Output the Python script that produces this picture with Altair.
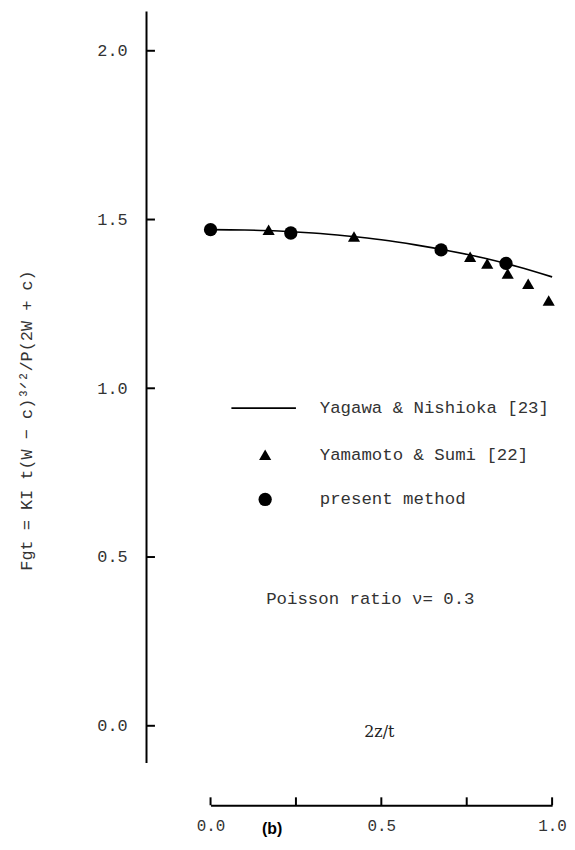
import altair as alt
import pandas as pd

# ---- data ----
# Yagawa & Nishioka [23] (solid curve)
curve_x = [0.0, 0.1, 0.2, 0.3, 0.4, 0.5, 0.6, 0.7, 0.8, 0.9, 1.0]
curve_y = [1.470, 1.469, 1.466, 1.460, 1.451, 1.440, 1.425, 1.407, 1.386, 1.360, 1.330]
# Yamamoto & Sumi [22] (triangles)
tri_x = [0.17, 0.42, 0.76, 0.81, 0.87, 0.93, 0.99]
tri_y = [1.47, 1.45, 1.39, 1.37, 1.34, 1.31, 1.26]
# present method (circles)
circ_x = [0.0, 0.235, 0.675, 0.865]
circ_y = [1.47, 1.46, 1.41, 1.37]

legend_labels = ["Yagawa & Nishioka [23]", "Yamamoto & Sumi [22]", "present method"]
x_ticks = [0.0, 0.25, 0.5, 0.75, 1.0]
y_ticks = [0.0, 0.5, 1.0, 1.5, 2.0]
y_title = "Fgt = KI t(W \u2212 c)\u00b3\u141f\u00b2/P(2W + c)"
note_text = "Poisson ratio   \u03bd= 0.3"
x_title = "2z/t"
panel_label = "(b)"

MONO = "Liberation Mono"
TXT = "#333333"
H = 757          # plot height (px)
XOFF = 43        # x axis offset below plot
YOFF = 65        # y axis offset left of plot

curve_df = pd.DataFrame({"x": curve_x, "y": curve_y})
tri_df = pd.DataFrame({"x": tri_x, "y": tri_y})
circ_df = pd.DataFrame({"x": circ_x, "y": circ_y})
xt_df = pd.DataFrame({"x": x_ticks})
yt_df = pd.DataFrame({"y": y_ticks})

xs = alt.Scale(domain=[0, 1], nice=False, zero=False)
ys = alt.Scale(domain=[-0.109, 2.118], nice=False, zero=False)

x_axis = alt.Axis(
    values=x_ticks, offset=XOFF, ticks=False,
    domainWidth=2, domainColor="black",
    labelExpr="(datum.value == 0.25 || datum.value == 0.75) ? '' : format(datum.value, '.1f')",
    labelFont=MONO, labelFontSize=16, labelColor=TXT, labelPadding=12,
    labelFlush=False, grid=False, title=None,
)
y_axis = alt.Axis(
    values=y_ticks, offset=YOFF, ticks=False,
    domainWidth=2, domainColor="black", format=".1f",
    labelFont=MONO, labelFontSize=17, labelColor=TXT, labelPadding=19,
    labelFlush=False, grid=False,
    title=y_title, titleFont=MONO, titleFontSize=17, titleFontWeight="normal",
    titleColor=TXT, titleAngle=270, titleX=-120, titleY=412,
    titleAlign="center", titleBaseline="middle",
)

X = lambda: alt.X("x:Q", scale=xs)
Y = lambda: alt.Y("y:Q", scale=ys)

curve = alt.Chart(curve_df).mark_line(color="black", strokeWidth=1.6, interpolate="monotone").encode(
    x=alt.X("x:Q", scale=xs, axis=x_axis),
    y=alt.Y("y:Q", scale=ys, axis=y_axis),
)
tris = alt.Chart(tri_df).mark_point(shape="triangle-up", filled=True, color="black", size=150, opacity=1).encode(
    x=X(), y=Y()
)
circs = alt.Chart(circ_df).mark_point(shape="circle", filled=True, color="black", size=180, opacity=1).encode(
    x=X(), y=Y()
)

# inward-pointing axis ticks
x_tick_marks = alt.Chart(xt_df).mark_rule(color="black", strokeWidth=2).encode(
    x=X(), y=alt.value(H + XOFF), y2=alt.value(H + XOFF - 8),
)
y_tick_marks = alt.Chart(yt_df).mark_rule(color="black", strokeWidth=2).encode(
    y=Y(), x=alt.value(-YOFF), x2=alt.value(-YOFF + 9),
)

one = pd.DataFrame({"k": [0]})

leg_line = alt.Chart(one).mark_rule(color="black", strokeWidth=1.6).encode(
    x=alt.value(21), x2=alt.value(86), y=alt.value(400)
)
leg_tri = alt.Chart(one).mark_point(shape="triangle-up", filled=True, color="black", size=150, opacity=1).encode(
    x=alt.value(55), y=alt.value(447)
)
leg_circ = alt.Chart(one).mark_point(shape="circle", filled=True, color="black", size=180, opacity=1).encode(
    x=alt.value(55), y=alt.value(492)
)

def label(text, x, y, font=MONO, size=17.5, align="left", weight="normal", color=TXT):
    return alt.Chart(pd.DataFrame({"t": [text]})).mark_text(
        font=font, fontSize=size, align=align, baseline="middle", fontWeight=weight, color=color
    ).encode(text="t:N", x=alt.value(x), y=alt.value(y))

leg_texts = [
    label(legend_labels[0], 110, 400),
    label(legend_labels[1], 110, 447),
    label(legend_labels[2], 110, 492),
]
note = label(note_text, 56, 592)
xt = label(x_title, 170, 726, font="DejaVu Serif", size=16, align="center", color="#222222")
pl = label(panel_label, 62, 824, font="Liberation Sans", size=16, align="center", weight="bold", color="black")

chart = alt.layer(
    curve, tris, circs, x_tick_marks, y_tick_marks,
    leg_line, leg_tri, leg_circ, *leg_texts, note, xt, pl
).properties(
    width=344, height=H, background="white",
    padding={"left": 10, "top": 0, "right": 0, "bottom": 0},
).configure_view(stroke=None)

chart.save("out.html", embed_options={"renderer": "svg", "actions": False})
